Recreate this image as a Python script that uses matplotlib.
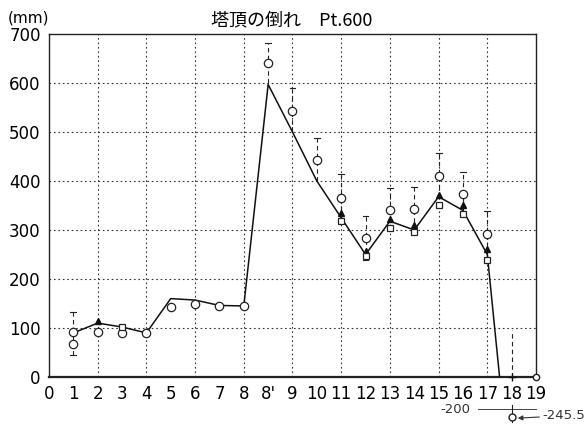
import matplotlib
matplotlib.use("Agg")
import matplotlib.pyplot as plt
import numpy as np

plt.rcParams["font.family"] = ["DejaVu Sans", "Noto Sans CJK JP"]

# measurement points along the tower (8' is an extra point between 8 and 9)
point_labels = ["0", "1", "2", "3", "4", "5", "6", "7", "8", "8'", "9", "10",
                "11", "12", "13", "14", "15", "16", "17", "18", "19"]

# design curve (solid line), indexed by point label
line_points = ["1", "2", "3", "4", "5", "6", "7", "8", "8'", "9", "10",
               "11", "12", "13", "14", "15", "16", "17", "18"]
line_values = [90, 110, 102, 90, 160, 157, 146, 145, 597, 500, 400,
               325, 250, 318, 300, 368, 340, 250, -245.5]

# measured values (circles)
circ_points = ["1", "1", "2", "3", "4", "5", "6", "7", "8", "8'", "9", "10",
               "11", "12", "13", "14", "15", "16", "17"]
circ_values = [92, 68, 91, 90, 90, 142, 148, 144, 145, 640, 542, 442,
               366, 283, 340, 343, 411, 374, 291]

# triangles and squares
tri_points = ["2", "11", "12", "13", "14", "15", "16", "17"]
tri_values = [115, 335, 257, 322, 310, 372, 352, 262]
sq_points = ["3", "11", "12", "13", "14", "15", "16", "17"]
sq_values = [102, 318, 246, 305, 295, 352, 333, 238]

# dashed range bars: point, low, high
bar_points = ["1", "8'", "9", "10", "11", "12", "13", "14", "15", "16", "17", "18"]
bar_low = [45, 600, 500, 400, 325, 238, 318, 300, 368, 340, 250, 0]
bar_high = [133, 682, 590, 488, 414, 328, 386, 388, 457, 418, 339, 95]

y_ticks = [0, 100, 200, 300, 400, 500, 600, 700]

pos = {lab: i for i, lab in enumerate(point_labels)}

fig = plt.figure(figsize=(5.84, 4.24), dpi=100)
ax = fig.add_axes([49 / 584, 1 - 377 / 424, 487 / 584, 343 / 424])

ax.set_xlim(0, len(point_labels) - 1)
ax.set_ylim(0, 700)
ax.set_xticks(range(len(point_labels)))
ax.set_xticklabels(point_labels, fontsize=12)
ax.set_yticks(y_ticks)
ax.set_yticklabels([str(v) for v in y_ticks], fontsize=12)
ax.tick_params(length=0, pad=6)

# dotted grid: every 100 mm, every second point
for v in y_ticks[1:-1]:
    ax.axhline(v, color="#333333", lw=0.8, ls=(0, (1.5, 2.5)), zorder=1)
for i in range(2, len(point_labels) - 1, 2):
    ax.axvline(i, color="#333333", lw=0.8, ls=(0, (1.5, 2.5)), zorder=1)

for s in ax.spines.values():
    s.set_color("#222222")
    s.set_linewidth(1.0)
ax.spines["bottom"].set_linewidth(1.6)

lx = [pos[p] for p in line_points]
ax.plot(lx, line_values, color="#111111", lw=1.1, zorder=3)

for p, lo, hi in zip(bar_points, bar_low, bar_high):
    x = pos[p]
    ax.plot([x, x], [lo, hi], color="#222222", lw=0.8, ls=(0, (4, 3)), zorder=2)
    if p != "18":
        ax.plot([x - 0.12, x + 0.12], [hi, hi], color="#222222", lw=0.8, zorder=2)
    if p in ("1", "12"):
        ax.plot([x - 0.12, x + 0.12], [lo, lo], color="#222222", lw=0.8, zorder=2)

ax.plot([pos[p] for p in circ_points], circ_values, ls="none", marker="o", ms=6,
        mfc="white", mec="#222222", mew=0.9, zorder=4)
ax.plot([pos[p] for p in tri_points], tri_values, ls="none", marker="^", ms=4.5,
        mfc="#111111", mec="#111111", zorder=5)
ax.plot([pos[p] for p in sq_points], sq_values, ls="none", marker="s", ms=4,
        mfc="white", mec="#222222", mew=0.9, zorder=5)

# points on the base line at 18 and 19
ax.plot([pos["18"]], [0], marker="+", ms=6, color="#111111", clip_on=False, zorder=5)
ax.plot([pos["19"]], [0], marker="o", ms=4.5, mfc="white", mec="#222222", clip_on=False, zorder=5)

# value below the base line at 18, on a compressed scale
k = 0.33
x18 = pos["18"]
ax.plot([x18 - 1.4, x18 + 1.0], [-200 * k, -200 * k], color="#444444", lw=0.7, clip_on=False)
ax.text(x18 - 1.7, -200 * k, "-200", ha="right", va="center", fontsize=9.5, color="#333333")
ax.plot([x18, x18], [-200 * k + 8, -245.5 * k - 10], color="#222222", lw=0.8, clip_on=False)
ax.plot([x18], [-245.5 * k], marker="o", ms=5, mfc="white", mec="#222222", clip_on=False)
ax.annotate("-245.5", xy=(x18 + 0.25, -245.5 * k - 3), xytext=(x18 + 1.25, -245.5 * k + 2),
            fontsize=9.5, color="#333333", va="center", annotation_clip=False,
            arrowprops=dict(arrowstyle="-|>", lw=0.8, color="#333333", mutation_scale=7,
                            shrinkA=0, shrinkB=0))

fig.text(292 / 584, 1 - 20 / 424, "塔頂の倒れ　Pt.600", ha="center", va="center", fontsize=13,
         family=["Noto Sans CJK JP", "DejaVu Sans"])
fig.text(8 / 584, 1 - 18 / 424, "(mm)", ha="left", va="center", fontsize=11)

fig.savefig("out.png", dpi=100, facecolor="white")
